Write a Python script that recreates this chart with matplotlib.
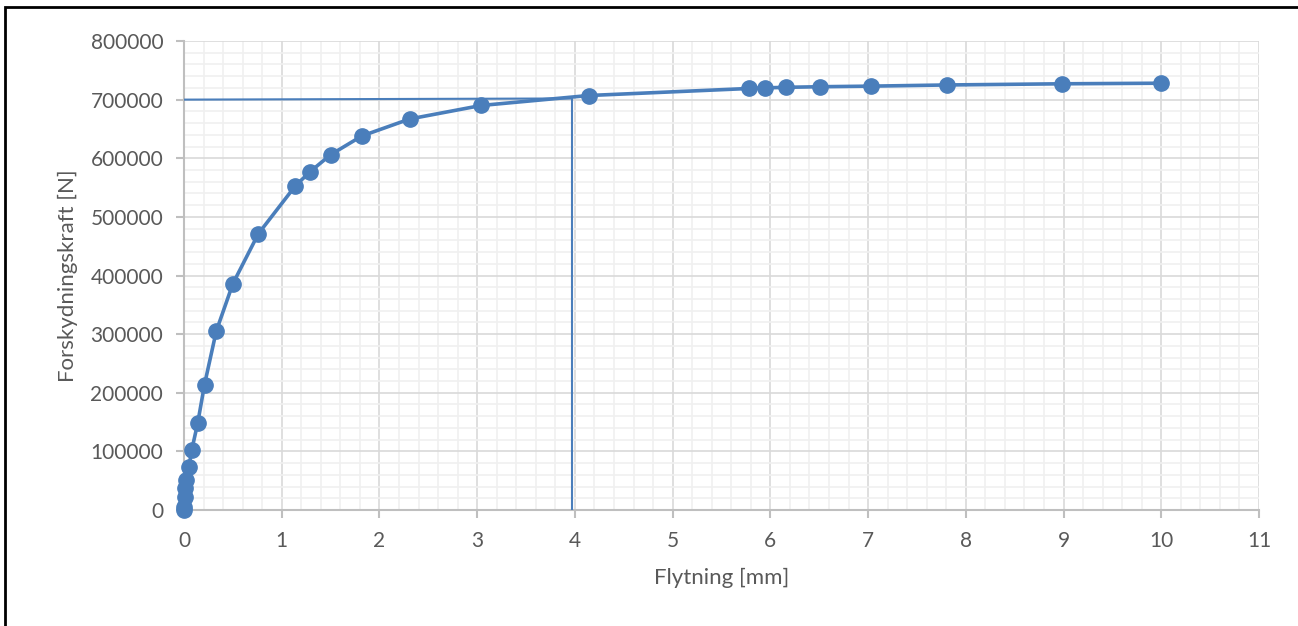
import numpy as np
import matplotlib.pyplot as plt
from matplotlib.ticker import MultipleLocator
from matplotlib.patches import Rectangle

# displacement [mm] and shear force [N]
flytning = [0.0, 0.0, 0.01, 0.01, 0.02, 0.05, 0.08, 0.14, 0.21, 0.33, 0.50,
            0.76, 1.14, 1.29, 1.50, 1.82, 2.31, 3.04, 4.14, 5.78, 5.94, 6.16,
            6.51, 7.03, 7.81, 8.98, 10.0]
kraft = [0, 5000, 22000, 37000, 52000, 73000, 103000, 148000, 214000, 305000,
         386000, 471000, 553000, 577000, 606000, 638000, 667000, 690000, 707000,
         719000, 720000, 721000, 722000, 723000, 725000, 727000, 728000]

# yield marker lines
hline_x = [0.0, 3.97]
hline_y = [700000, 702000]
vline_x = [3.97, 3.97]
vline_y = [0, 700000]

blue = "#4A7EBB"
gray_text = "#595959"

plt.rcParams["font.family"] = ["Lato", "DejaVu Sans"]

fig = plt.figure(figsize=(12.98, 6.26), dpi=100)
ax = fig.add_axes([184 / 1298, 1 - 510 / 626, (1259 - 184) / 1298, (510 - 41) / 626])

ax.plot(flytning, kraft, color=blue, lw=2.6, marker="o", ms=11,
        markerfacecolor=blue, markeredgecolor=blue, zorder=4, clip_on=False)
ax.plot(hline_x, hline_y, color=blue, lw=1.5, zorder=3)
ax.plot(vline_x, vline_y, color=blue, lw=1.5, zorder=3)

ax.set_xlim(0, 11)
ax.set_ylim(0, 800000)
ax.xaxis.set_major_locator(MultipleLocator(1))
ax.xaxis.set_minor_locator(MultipleLocator(0.2))
ax.yaxis.set_major_locator(MultipleLocator(100000))
ax.yaxis.set_minor_locator(MultipleLocator(20000))

ax.grid(which="major", color="#D9D9D9", lw=1.2)
ax.grid(which="minor", color="#F0F0F0", lw=1.2)
ax.set_axisbelow(True)

for side in ["top", "right"]:
    ax.spines[side].set_visible(False)
for side in ["left", "bottom"]:
    ax.spines[side].set_color("#BFBFBF")
    ax.spines[side].set_linewidth(1.5)

ax.tick_params(which="major", length=6, width=1.5, color="#BFBFBF",
               labelcolor=gray_text, labelsize=15, pad=9)
ax.tick_params(which="minor", length=0)

ax.set_xlabel("Flytning [mm]", fontsize=16, color=gray_text, labelpad=12)
ax.set_ylabel("Forskydningskraft [N]", fontsize=16, color=gray_text, labelpad=9)

# outer frame of the embedded chart
fig.patches.append(Rectangle((5 / 1298, -0.1), 1.2, 1 - 7 / 626 + 0.1,
                             transform=fig.transFigure, fill=False,
                             edgecolor="black", lw=2))

fig.savefig("out.png", dpi=100)
